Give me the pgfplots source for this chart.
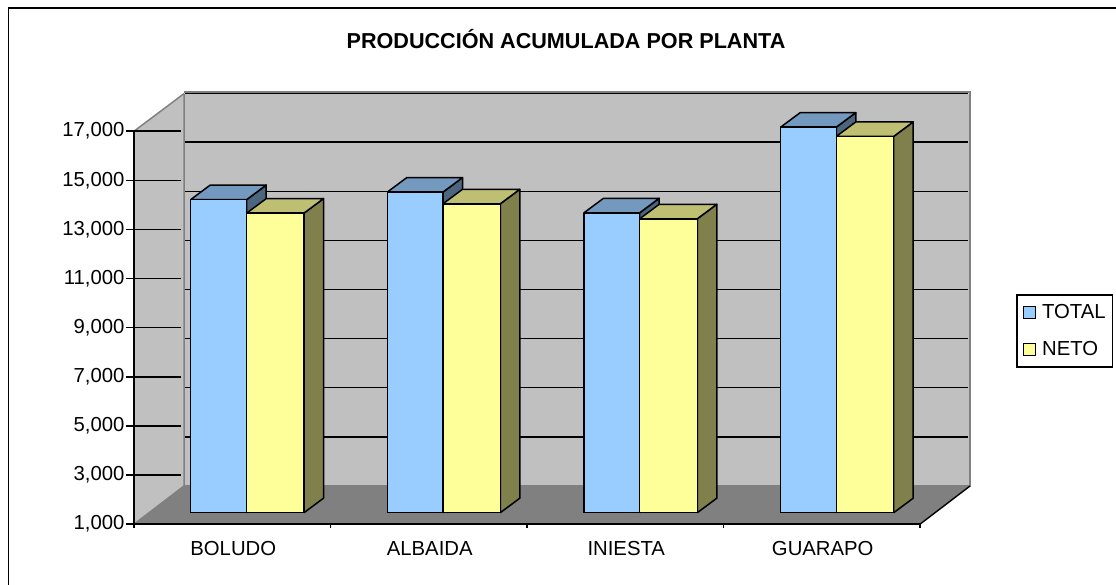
\documentclass[border=0pt]{standalone}
\usepackage{fontspec}
\setmainfont{Liberation Sans}
\usepackage{pgfplots}
\usepackage{pgfplotstable}
\pgfplotsset{compat=1.18}
\definecolor{tfront}{HTML}{99CCFF}
\definecolor{ttop}{HTML}{7399BF}
\definecolor{tside}{HTML}{4D6680}
\definecolor{nfront}{HTML}{FFFF99}
\definecolor{ntop}{HTML}{BFBF73}
\definecolor{nside}{HTML}{80804D}
\definecolor{wallc}{HTML}{C0C0C0}
\definecolor{floorc}{HTML}{808080}
\pgfplotstableread{
u d h
0 0 0
1 0 0
1 0 1
0 0 1
0 0 0
}\Tfront
\pgfplotstableread{
u d h
0 0 1
1 0 1
1 1 1
0 1 1
0 0 1
}\Ttop
\pgfplotstableread{
u d h
1 0 0
1 1 0
1 1 1
1 0 1
1 0 0
}\Tside
\newcommand\Face[5]{%
  \addplot[fill=#5,draw=black,line width=1.5pt,line join=round,forget plot]
    table[x expr={#1+\thisrow{u}*(#2-#1)+\thisrow{d}*19.5},
          y expr={1468+\thisrow{d}*590+\thisrow{h}*(#3-1000)}] {#4};}
\newcommand\Bar[6]{%
  \Face{#1}{#2}{#3}{\Tside}{#6}
  \Face{#1}{#2}{#3}{\Ttop}{#5}
  \Face{#1}{#2}{#3}{\Tfront}{#4}}
\newcommand\fs{\fontsize{20.3}{22}\selectfont}
\begin{document}
\begin{tikzpicture}
\path[use as bounding box] (-134pt,-60.8pt) rectangle (982pt,524.2pt);
\draw[line width=1.8pt,black] (-125.5pt,-60.8pt) -- (-125.5pt,516.2pt) -- (982pt,516.2pt);
\begin{axis}[
  at={(0pt,0pt)},anchor=south west,
  scale only axis,width=786pt,height=393pt,
  xmin=134,xmax=920,ymin=1000,ymax=17000,
  clip=false,
  axis x line=bottom,axis y line=left,
  axis line style={-,line width=1.5pt},
  xtick={134,330.5,527,723.5,920},
  x tick label as interval,
  xticklabels={BOLUDO,ALBAIDA,INIESTA,GUARAPO},
  ytick={1000,3000,5000,7000,9000,11000,13000,15000,17000},
  scaled y ticks=false,
  yticklabel style={/pgf/number format/1000 sep={,},/pgf/number format/assume math mode=true,/pgf/number format/fixed,xshift=-2pt},
  tick label style={font=\fs,text=black},
  tick style={black,line width=1.5pt},
  major tick length=4pt,
  tick align=outside,
  xticklabel style={yshift=-10pt,xshift=1pt},
  legend style={at={(axis cs:1016,10369)},anchor=north west,draw=black,line width=1.5pt,
    font=\fs,row sep=19pt,inner xsep=6pt,inner ysep=9pt,fill=white,
    /tikz/every odd column/.style={column sep=5pt},
    nodes={inner sep=1pt}},
  legend cell align=left,
  legend image code/.code={\draw[#1] (0pt,-6pt) rectangle (12pt,6pt);},
]
% walls and floor
\addplot[fill=wallc,draw=none,forget plot] coordinates {(134,1000)(184,2555)(184,18530)(134,17000)(134,1000)};
\addplot[fill=wallc,draw=none,forget plot] coordinates {(184,2555)(970,2555)(970,18530)(184,18530)(184,2555)};
\addplot[fill=floorc,draw=none,forget plot] coordinates {(134,1000)(920,1000)(970,2555)(184,2555)(134,1000)};
\addplot[floorc,line width=1.5pt,forget plot] coordinates {(134,1000)(184,2555)(184,18530)};
\addplot[floorc,line width=1.5pt,forget plot] coordinates {(134,17000)(184,18530)};
\addplot[floorc,line width=1.5pt,forget plot] coordinates {(184,18600)(970,18600)(970,2555)(184,2555)};
\addplot[black,line width=1.4pt,forget plot] coordinates {(920,1000)(970,2555)};
\pgfplotsinvokeforeach{4555,6555,8555,10555,12555,14555,16555,18530}{%
  \addplot[black,line width=1.4pt,forget plot] coordinates {(185,#1)(968,#1)};}
\pgfplotsinvokeforeach{3000,5000,7000,9000,11000,13000,15000,17000}{%
  \addplot[black,line width=1.4pt,forget plot] coordinates {(126,#1)(181,#1)};}
\addplot[black,line width=1.5pt,forget plot] coordinates {(126,1000)(134,1000)};
\addplot[black,line width=1.5pt,forget plot] coordinates {(134,17000)(134,1000)(920,1000)};
% bars
\Bar{190.7}{246.7}{13747}{tfront}{ttop}{tside}
\Bar{246.7}{304}{13197}{nfront}{ntop}{nside}
\Bar{387.3}{443}{14053}{tfront}{ttop}{tside}
\Bar{443}{500.3}{13577}{nfront}{ntop}{nside}
\Bar{584}{639.7}{13210}{tfront}{ttop}{tside}
\Bar{639.7}{697.3}{12966}{nfront}{ntop}{nside}
\Bar{780.7}{836.3}{16698}{tfront}{ttop}{tside}
\Bar{836.3}{893.7}{16320}{nfront}{ntop}{nside}
\addlegendimage{fill=tfront,draw=black,line width=1.4pt}
\addlegendentry{TOTAL}
\addlegendimage{fill=nfront,draw=black,line width=1.4pt}
\addlegendentry{NETO}
\node[font=\bfseries\fontsize{21.6}{24}\selectfont,anchor=center] at (axis cs:566,20740) {PRODUCCIÓN ACUMULADA POR PLANTA};
\end{axis}
\end{tikzpicture}
\end{document}
